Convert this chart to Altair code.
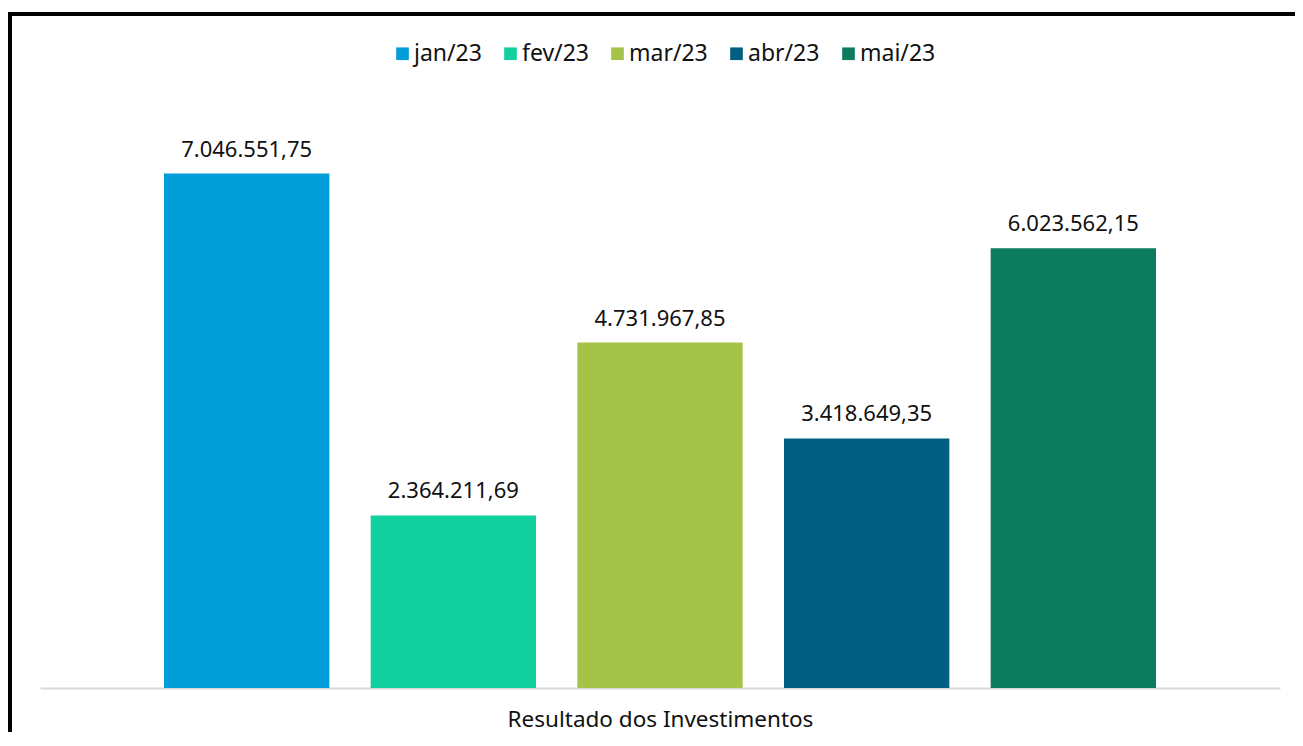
import altair as alt
import pandas as pd

months = ["jan/23", "fev/23", "mar/23", "abr/23", "mai/23"]
values = [7046551.75, 2364211.69, 4731967.85, 3418649.35, 6023562.15]
colors = ["#009DD9", "#12CF9E", "#A5C249", "#005E82", "#0C7B5E"]
axis_title = "Resultado dos Investimentos"


def br(v):
    s = f"{v:,.2f}"
    return s.replace(",", "X").replace(".", ",").replace("X", ".")


df = pd.DataFrame({"mes": months, "valor": values, "rotulo": [br(v) for v in values]})

FONT = "Noto Sans"

x = alt.X(
    "mes:N",
    sort=months,
    scale=alt.Scale(paddingInner=0.2, paddingOuter=0.6),
    axis=alt.Axis(
        title=axis_title,
        labels=False,
        ticks=False,
        domainColor="#d9d9d9",
        domainWidth=2,
        titleFont=FONT,
        titleFontSize=22.5,
        titleFontWeight="normal",
        titleColor="#111111",
        titleBaseline="alphabetic",
        titleY=38,
    ),
)
y = alt.Y("valor:Q", scale=alt.Scale(domain=[0, 8000000]), axis=None)

bars = alt.Chart(df).mark_bar().encode(
    x=x,
    y=y,
    color=alt.Color(
        "mes:N",
        sort=months,
        scale=alt.Scale(domain=months, range=colors),
        legend=alt.Legend(
            title=None,
            orient="none",
            direction="horizontal",
            legendX=351,
            legendY=-62,
            symbolType="square",
            symbolSize=160,
            symbolStrokeWidth=0,
            symbolOpacity=1,
            labelFont=FONT,
            labelFontSize=23,
            labelColor="#111111",
            labelOffset=0,
            columnPadding=17,
            padding=0,
        ),
    ),
)

labels = alt.Chart(df).mark_text(
    font=FONT, fontSize=22, color="#111111", baseline="alphabetic", dy=-17
).encode(x=alt.X("mes:N", sort=months), y="valor:Q", text="rotulo:N")

frame_df = pd.DataFrame({"k": [0]})
left_line = alt.Chart(frame_df).mark_rule(color="#000000", strokeWidth=5).encode(
    x=alt.value(-30.5), y=alt.value(-92), y2=alt.value(720)
)
top_line = alt.Chart(frame_df).mark_rule(color="#000000", strokeWidth=4).encode(
    x=alt.value(-33), x2=alt.value(1300), y=alt.value(-90)
)

chart = (
    alt.layer(bars, labels, left_line, top_line)
    .properties(
        width=1240,
        height=584,
        padding={"left": 32, "top": 96, "right": 15, "bottom": 44},
        autosize=alt.AutoSizeParams(type="none"),
        background="white",
    )
    .configure_view(stroke=None)
)

chart.save("out.html", embed_options={"renderer": "svg", "actions": False})
